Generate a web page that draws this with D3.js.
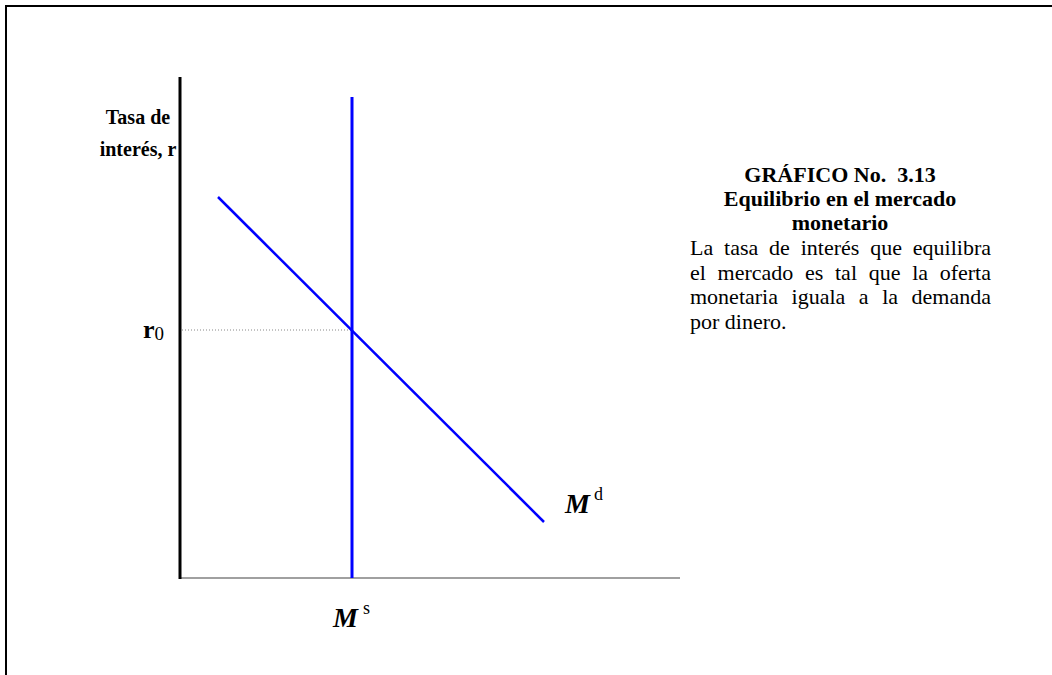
<!DOCTYPE html>
<html>
<head>
<meta charset="utf-8">
<script src="https://cdn.jsdelivr.net/npm/d3@7"></script>
<style>
body{margin:0;background:#fff}
text{font-family:"Liberation Serif","Times New Roman",serif}
</style>
</head>
<body>
<div id="chart"></div>
<script>
// chart values, in abstract units (0..10 on both axes)
const qDomain = [0, 10]
const rDomain = [0, 10]
const demand = [
    {q: 0.76, r: 7.62},
    {q: 7.28, r: 1.12}
]
const supplyQ = 3.44
const supplyTop = 9.62
const r0 = 4.96
const yTitle = ["Tasa de", "interés, r"]
const titleLines = ["GRÁFICO No.\u00a0 3.13", "Equilibrio en el mercado", "monetario"]
const bodyLines = [
    "La tasa de interés que equilibra",
    "el mercado es tal que la oferta",
    "monetaria iguala a la demanda",
    "por dinero."
]

function config(){
    let width = 1052, height = 675
    let svg = d3.select("#chart").append("svg")
                .attr("width", width)
                .attr("height", height)
    let xScale = d3.scaleLinear().domain(qDomain).range([180, 680])
    let yScale = d3.scaleLinear().domain(rDomain).range([578, 78])
    return {width, height, svg, xScale, yScale}
}

function drawFrame(c){
    let {svg, width, height} = c
    svg.append("line")
        .attr("x1", 5).attr("x2", width)
        .attr("y1", 6).attr("y2", 6)
        .style("stroke", "#000").style("stroke-width", 2)
    svg.append("line")
        .attr("x1", 6).attr("x2", 6)
        .attr("y1", 5).attr("y2", height)
        .style("stroke", "#000").style("stroke-width", 2)
}

function drawChart(c){
    let {svg, xScale, yScale} = c

    // dotted guide at r0
    svg.append("line")
        .attr("x1", xScale(0) + 2).attr("x2", xScale(supplyQ))
        .attr("y1", yScale(r0)).attr("y2", yScale(r0))
        .style("stroke", "#888")
        .style("stroke-width", 1)
        .style("stroke-dasharray", "1,2")

    // x axis (gray)
    svg.append("line")
        .attr("x1", xScale(0)).attr("x2", xScale(qDomain[1]))
        .attr("y1", yScale(0)).attr("y2", yScale(0))
        .style("stroke", "#a0a0a0").style("stroke-width", 2)

    // y axis (black)
    svg.append("line")
        .attr("x1", xScale(0)).attr("x2", xScale(0))
        .attr("y1", yScale(0) + 1).attr("y2", yScale(rDomain[1]) - 1)
        .style("stroke", "#000").style("stroke-width", 3)

    // money supply
    svg.append("line")
        .attr("x1", xScale(supplyQ)).attr("x2", xScale(supplyQ))
        .attr("y1", yScale(0)).attr("y2", yScale(supplyTop))
        .style("stroke", "#0000ff").style("stroke-width", 3)

    // money demand
    let line = d3.line().x(d => xScale(d.q)).y(d => yScale(d.r))
    svg.append("path")
        .datum(demand)
        .attr("d", line)
        .style("fill", "none")
        .style("stroke", "#0000ff")
        .style("stroke-width", 2.5)
}

function drawLabels(c){
    let {svg, xScale, yScale} = c

    let yt = svg.append("text")
        .attr("text-anchor", "middle")
        .style("font-weight", "bold")
        .style("font-size", "20px")
    yTitle.forEach((t, i) => {
        yt.append("tspan").attr("x", 138).attr("y", 124 + i * 32).text(t)
    })

    // r0
    let r = svg.append("text")
        .attr("x", 143).attr("y", yScale(r0) + 8)
        .style("font-size", "26px")
    r.append("tspan").style("font-weight", "bold").text("r")
    r.append("tspan").attr("dy", 2).style("font-size", "19px").text("0")

    // M^d
    let md = svg.append("text")
        .attr("x", xScale(demand[1].q) + 21).attr("y", yScale(demand[1].r) - 9)
        .style("font-size", "28px")
    md.append("tspan").style("font-weight", "bold").style("font-style", "italic").text("M")
    md.append("tspan").attr("dx", 4).attr("dy", -13).style("font-size", "18px").text("d")

    // M^s
    let ms = svg.append("text")
        .attr("x", xScale(supplyQ) - 19).attr("y", 627)
        .style("font-size", "28px")
    ms.append("tspan").style("font-weight", "bold").style("font-style", "italic").text("M")
    ms.append("tspan").attr("dx", 5).attr("dy", -13).style("font-size", "18px").text("s")

    // caption title
    titleLines.forEach((t, i) => {
        svg.append("text")
            .attr("x", 840).attr("y", 182 + i * 24.2)
            .attr("text-anchor", "middle")
            .style("font-weight", "bold")
            .style("font-size", "22px")
            .text(t)
    })

    // justified body text
    let left = 690, right = 991
    bodyLines.forEach((t, i) => {
        let y = 255 + i * 24.6
        let words = t.split(" ")
        let g = svg.append("g")
        let nodes = words.map(w => g.append("text")
            .attr("y", y)
            .style("font-size", "22px")
            .text(w))
        let widths = nodes.map(n => n.node().getComputedTextLength())
        let total = d3.sum(widths)
        let last = i === bodyLines.length - 1
        let gap = last ? 5.5 : (right - left - total) / (words.length - 1)
        let x = left
        nodes.forEach((n, j) => {
            n.attr("x", x)
            x += widths[j] + gap
        })
    })
}

let c = config()
drawFrame(c)
drawChart(c)
drawLabels(c)
</script>
</body>
</html>
